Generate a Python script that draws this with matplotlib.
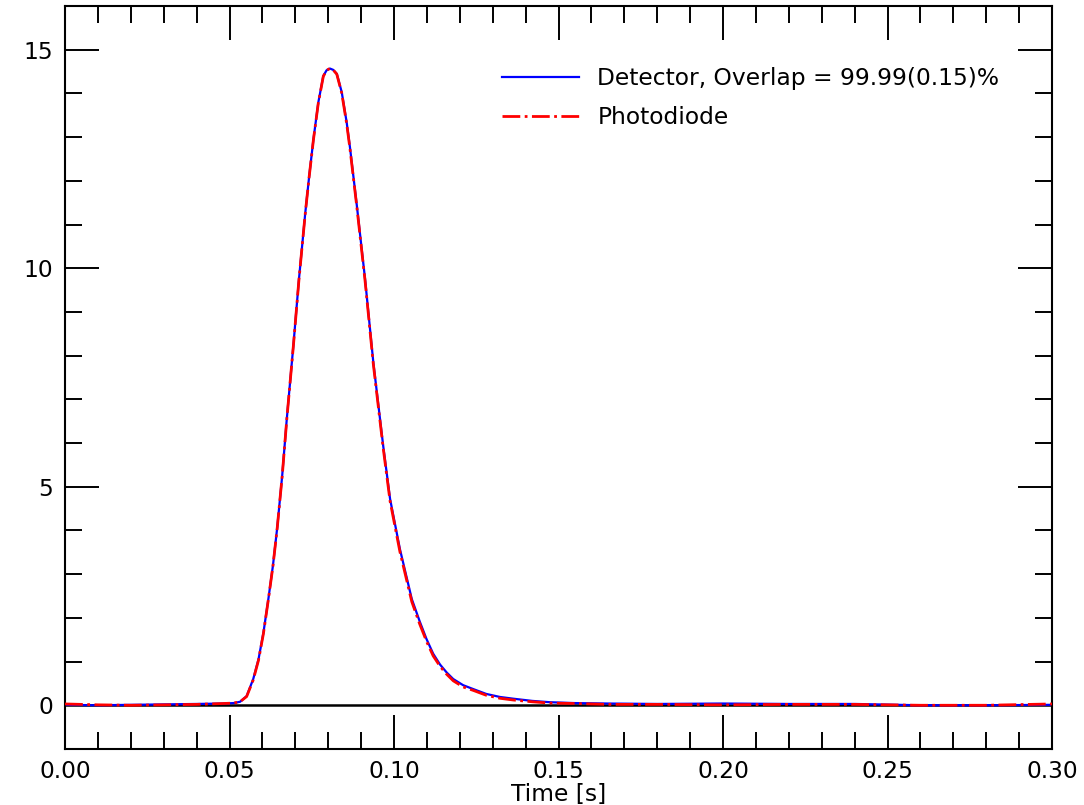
import matplotlib
matplotlib.use("Agg")
import matplotlib.pyplot as plt
from matplotlib.ticker import MultipleLocator

# values
time_s = [0.000, 0.010, 0.020, 0.030, 0.040, 0.048, 0.0512, 0.0532, 0.0552,
          0.0572, 0.0588, 0.0603, 0.0618, 0.0632, 0.0645, 0.0660, 0.0674,
          0.0694, 0.0711, 0.0730, 0.0742, 0.0755, 0.0770, 0.0785, 0.0795,
          0.0805, 0.0815, 0.0826, 0.0841, 0.0856, 0.0866, 0.0887, 0.0912,
          0.0937, 0.0967, 0.0988, 0.1018, 0.1054, 0.1078, 0.1099, 0.1119,
          0.1140, 0.1160, 0.1180, 0.1210, 0.1241, 0.1280, 0.1322, 0.1363,
          0.1420, 0.1474, 0.155, 0.165, 0.180, 0.200, 0.220, 0.240, 0.260,
          0.280, 0.300]
detector = [0.01, 0.00, 0.01, 0.02, 0.03, 0.04, 0.05, 0.08, 0.21,
            0.60, 1.05, 1.66, 2.43, 3.20, 4.07, 5.25, 6.55,
            8.23, 9.75, 11.25, 12.10, 12.95, 13.80, 14.40, 14.53,
            14.57, 14.54, 14.45, 14.03, 13.34, 12.77, 11.43, 9.75,
            7.85, 5.94, 4.72, 3.57, 2.43, 1.92, 1.51, 1.18,
            0.93, 0.75, 0.60, 0.46, 0.37, 0.26, 0.19, 0.15,
            0.10, 0.07, 0.05, 0.04, 0.03, 0.04, 0.03, 0.03, 0.00,
            0.00, 0.01]
photodiode = [0.03, 0.01, 0.00, 0.01, 0.02, 0.04, 0.05, 0.08, 0.20,
              0.58, 1.03, 1.64, 2.42, 3.19, 4.06, 5.24, 6.54,
              8.22, 9.74, 11.24, 12.09, 12.94, 13.79, 14.39, 14.53,
              14.57, 14.54, 14.44, 14.01, 13.31, 12.74, 11.40, 9.71,
              7.81, 5.89, 4.67, 3.51, 2.37, 1.86, 1.46, 1.13,
              0.89, 0.71, 0.56, 0.42, 0.34, 0.23, 0.16, 0.12,
              0.08, 0.05, 0.04, 0.02, 0.02, 0.01, 0.02, 0.02, 0.00,
              0.00, 0.03]

label_det = "Detector, Overlap = 99.99(0.15)%"
label_pd = "Photodiode"

fs = 16.8
fig = plt.figure(figsize=(10.84, 8.05), dpi=100)
ax = fig.add_axes([0.060, 0.0696, 0.9105, 0.9229])

ax.axhline(0, color="black", lw=1.8, zorder=1)
ax.plot(time_s, detector, color="blue", lw=1.6, label=label_det, zorder=2)
ax.plot(time_s, photodiode, color="red", lw=2.0, ls="-.", label=label_pd, zorder=3)

ax.set_xlim(0, 0.30)
ax.set_ylim(-1, 16)
ax.xaxis.set_major_locator(MultipleLocator(0.05))
ax.xaxis.set_minor_locator(MultipleLocator(0.01))
ax.yaxis.set_major_locator(MultipleLocator(5))
ax.yaxis.set_minor_locator(MultipleLocator(1))
ax.xaxis.set_major_formatter(plt.FormatStrFormatter("%.2f"))

ax.tick_params(which="both", direction="in", top=True, right=True,
               width=1.4, labelsize=fs)
ax.tick_params(which="major", length=24.5, pad=8)
ax.tick_params(which="minor", length=12.2)
ax.tick_params(axis="y", which="major", pad=8.4)
for s in ax.spines.values():
    s.set_linewidth(1.5)

ax.set_xlabel("Time [s]", fontsize=fs, labelpad=0)

ax.legend(loc="upper right", bbox_to_anchor=(0.968, 0.946), frameon=False,
          fontsize=fs, handlelength=3.3, handletextpad=0.8, labelspacing=0.7)

fig.savefig("out.png", dpi=100)
